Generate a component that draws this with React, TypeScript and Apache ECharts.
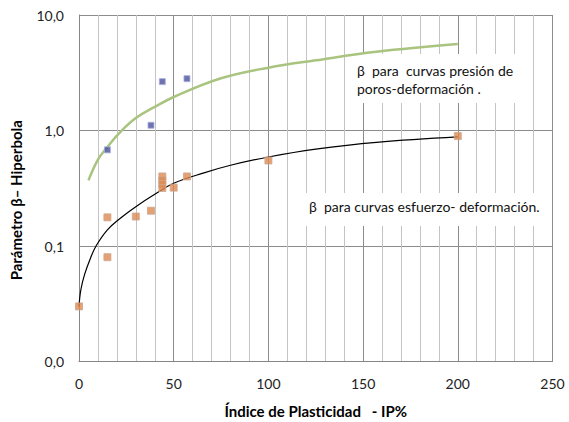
import React, { useEffect, useRef } from "react";
import * as echarts from "echarts";

const poreX = [15, 38, 44, 57];
const poreY = [0.68, 1.11, 2.65, 2.81];

const stressX = [0, 15, 15, 30, 38, 44, 44, 44, 44, 50, 57, 100, 200];
const stressY = [0.03, 0.177, 0.08, 0.18, 0.202, 0.40, 0.37, 0.344, 0.318, 0.32, 0.40, 0.55, 0.895];

const poreCurveX = [5, 10, 15, 21, 30, 40, 50, 75, 100, 125, 157, 200];
const poreCurveY = [0.37, 0.56, 0.72, 0.94, 1.28, 1.6, 1.95, 2.83, 3.5, 4.05, 4.8, 5.6];

const stressCurveX = [0, 1, 3, 6, 9, 15, 22, 30, 40, 50, 66, 80, 100, 125, 157, 200];
const stressCurveY = [0.03, 0.042, 0.057, 0.078, 0.10, 0.138, 0.175, 0.219, 0.28, 0.349, 0.43, 0.50, 0.59, 0.69, 0.79, 0.88];

const labelPore1 = "β  para  curvas presión de";
const labelPore2 = "poros-deformación .";
const labelStress = "β  para curvas esfuerzo- deformación.";

const FONT = "Lato";

function zip(xs: number[], ys: number[]) {
  return xs.map((x, i) => [x, ys[i]]);
}

export default function App() {
  const ref = useRef<HTMLDivElement>(null);
  useEffect(() => {
    if (!ref.current) return;
    const chart = echarts.init(ref.current, null, { renderer: "svg" });
    chart.setOption({
      animation: false,
      backgroundColor: "#ffffff",
      textStyle: { fontFamily: FONT },
      grid: {
        left: 79,
        top: 15,
        right: 16.5,
        bottom: 60.5,
        containLabel: false,
        outerBoundsMode: "none",
      },
      xAxis: {
        type: "value",
        min: 0,
        max: 250,
        interval: 50,
        name: "Índice de Plasticidad   - IP%",
        nameLocation: "middle",
        nameGap: 42,
        nameTextStyle: { fontFamily: FONT, fontWeight: "bold", fontSize: 15, color: "#000" },
        axisLine: { show: true, lineStyle: { color: "#868686", width: 1 } },
        axisTick: { show: false },
        axisLabel: { fontFamily: FONT, fontSize: 14, color: "#222", margin: 15 },
        splitLine: { show: true, lineStyle: { color: "#8c8c8c", width: 1 } },
        minorTick: { show: false, splitNumber: 5 },
        minorSplitLine: { show: true, lineStyle: { color: "#c4c4c4", width: 1 } },
      },
      yAxis: {
        type: "log",
        logBase: 10,
        min: 0.01,
        max: 10,
        name: "Parámetro β– Hiperbola",
        nameLocation: "middle",
        nameGap: 56,
        nameRotate: 90,
        nameTextStyle: {
          fontFamily: FONT,
          fontWeight: "bold",
          fontSize: 15,
          color: "#000",
          padding: [0, 24, 0, 0],
        },
        axisLine: { show: true, lineStyle: { color: "#868686", width: 1 } },
        axisTick: { show: false },
        axisLabel: {
          fontFamily: FONT,
          fontSize: 14,
          color: "#222",
          margin: 15,
          formatter: (v: number) => v.toFixed(1).replace(".", ","),
        },
        splitLine: { show: true, lineStyle: { color: "#8c8c8c", width: 1 } },
      },
      series: [
        {
          type: "line",
          data: zip(poreCurveX, poreCurveY),
          smooth: 0.4,
          showSymbol: false,
          lineStyle: { color: "#a9c47f", width: 2.5 },
          z: 3,
        },
        {
          type: "line",
          data: zip(stressCurveX, stressCurveY),
          smooth: 0.4,
          showSymbol: false,
          lineStyle: { color: "#000000", width: 1.2 },
          z: 3,
        },
        {
          type: "scatter",
          data: zip(poreX, poreY),
          symbol: "rect",
          symbolSize: 6,
          itemStyle: { color: "#4b4f9e", borderColor: "#a7b0dc", borderWidth: 1 },
          z: 4,
        },
        {
          type: "scatter",
          data: zip(stressX, stressY),
          symbol: "rect",
          symbolSize: 7,
          itemStyle: { color: "#e0884f", borderColor: "#c9a890", borderWidth: 1 },
          z: 4,
        },
      ],
      graphic: [
        { type: "rect", shape: { x: 348, y: 54, width: 176, height: 49 }, style: { fill: "#fff" }, z: 1 },
        {
          type: "text",
          x: 357,
          y: 63,
          style: { text: labelPore1, font: `14px ${FONT}`, fill: "#111" },
          z: 11,
        },
        {
          type: "text",
          x: 357,
          y: 81,
          style: { text: labelPore2, font: `14px ${FONT}`, fill: "#111" },
          z: 11,
        },
        { type: "rect", shape: { x: 295, y: 193, width: 254, height: 33 }, style: { fill: "#fff" }, z: 1 },
        {
          type: "text",
          x: 309,
          y: 199,
          style: { text: labelStress, font: `14px ${FONT}`, fill: "#111" },
          z: 11,
        },
      ],
    });
    return () => chart.dispose();
  }, []);
  return (
    <div
      ref={ref}
      style={{ position: "absolute", left: 0, top: 0, width: 569, height: 422 }}
    />
  );
}
